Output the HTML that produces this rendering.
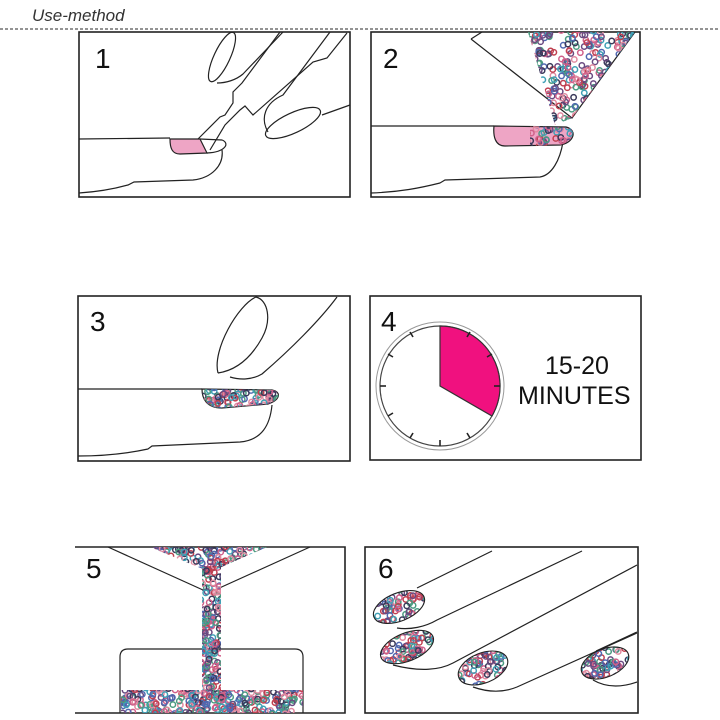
<!DOCTYPE html>
<html><head><meta charset="utf-8"><style>
html,body{margin:0;padding:0;background:#fff;}
svg{display:block;}
text{font-family:"Liberation Sans",sans-serif;}
</style></head><body>
<svg id="s" width="720" height="720" viewBox="0 0 720 720" xmlns="http://www.w3.org/2000/svg">
<defs>
<clipPath id="c2"><polygon points="528,32 635,32 572,118 555,125"/></clipPath>
<clipPath id="c2n"><path d="M530,126 L570,128 C576,132 572,142 560,145 L530,146 Z"/></clipPath>
<clipPath id="c3"><path d="M202,389 L272,390 C282,392 280,400 268,404 L222,408 C206,408 202,398 202,389 Z"/></clipPath>
<clipPath id="c5a"><polygon points="150,547 267,547 210,572"/></clipPath>
<clipPath id="c5b"><rect x="202" y="566" width="19" height="132"/></clipPath>
<clipPath id="c5c"><rect x="121" y="690" width="182" height="23"/></clipPath>
<clipPath id="n1"><ellipse cx="399" cy="607" rx="27" ry="14" transform="rotate(-22 399 607)"/></clipPath>
<clipPath id="n2"><ellipse cx="407" cy="647" rx="28" ry="14" transform="rotate(-22 407 647)"/></clipPath>
<clipPath id="n3"><ellipse cx="483" cy="668" rx="26" ry="15" transform="rotate(-22 483 668)"/></clipPath>
<clipPath id="n4"><ellipse cx="605" cy="663" rx="25" ry="14" transform="rotate(-22 605 663)"/></clipPath>
</defs>
<text x="32" y="21" font-size="17" font-style="italic" fill="#333">Use-method</text>
<line x1="0" y1="29" x2="720" y2="29" stroke="#555" stroke-width="1.2" stroke-dasharray="3,2"/>

<g fill="none" stroke="#222" stroke-width="1.3">
<rect x="79" y="32" width="271" height="165" stroke-width="1.6"/>
<rect x="371" y="32" width="269" height="165" stroke-width="1.6"/>
<rect x="78" y="296" width="272" height="165" stroke-width="1.6"/>
<rect x="370" y="296" width="271" height="164" stroke-width="1.6"/>
<path d="M75,547 L345,547 L345,713 L75,713" stroke-width="1.6"/>
<rect x="365" y="547" width="273" height="166" stroke-width="1.6"/>
</g>
<g font-size="28" fill="#111">
<text x="95" y="68">1</text><text x="383" y="68">2</text>
<text x="90" y="331">3</text><text x="381" y="331">4</text>
<text x="86" y="578">5</text><text x="378" y="578">6</text>
</g>

<g fill="none" stroke="#222" stroke-width="1.2">
<path d="M79,139 L170,138"/>
<path d="M170,139 L200,139 L207,153 L180,154 C172,154 170,148 170,139 Z" fill="#eea5c5"/>
<path d="M200,139 L222,140 C230,143 226,152 207,153"/>
<path d="M222,150 C224,165 212,178 193,180 L134,182 L128,185 C110,190 95,192 79,193"/>
<path d="M198,139 L220,117 L225,115 L233,103 L233,92 L242,83 L280,32"/>
<path d="M210,150 L225,125 L240,110 L245,106 L253,115 L313,62 L327,58 L347,33"/>
<ellipse cx="222" cy="57" rx="27" ry="8" transform="rotate(-65 222 57)"/>
<path d="M217,83 C226,83 236,80 243,74 L283,32"/>
<ellipse cx="293" cy="123" rx="30" ry="10" transform="rotate(-25 293 123)"/>
<path d="M268,132 C260,118 265,103 283,95 L330,32"/>
<path d="M322,115 L350,105"/>
<polyline points="471,39 482,32"/>
<polyline points="471,39 572,118 635,32"/>
<path d="M371,126 L494,126"/>
<path d="M494,126 L566,127 C578,130 574,143 560,145 L505,146 C495,146 493,136 494,126 Z" fill="#eea5c5"/>
<path d="M563,142 C560,160 552,175 540,177 L445,180 L440,183 C420,188 400,192 371,193"/>
<path d="M78,389 L202,389"/>
<path d="M202,389 L272,390 C282,392 280,400 268,404 L222,408 C206,408 202,398 202,389 Z"/>
<path d="M272,405 C270,425 262,440 240,442 L152,446 L148,449 C125,454 100,456 78,456"/>
<path d="M218,373 C212,350 238,305 256,297 C268,300 272,320 262,338 C252,356 238,370 218,373"/>
<path d="M230,377 C240,380 252,380 262,374 C290,350 320,320 337,297"/>
<circle cx="440" cy="386" r="64" stroke="#999" stroke-width="1"/>
<circle cx="440" cy="386" r="60" stroke="#444" stroke-width="1.2"/>
<path d="M440,386 L440,326 A60,60 0 0 1 492,416 Z" fill="#f0117f" stroke="#333"/>
<g stroke="#222" stroke-width="1.6">
<line x1="440" y1="440" x2="440" y2="446"/>
<line x1="410" y1="332" x2="413" y2="337"/>
<line x1="388" y1="354" x2="393" y2="357"/>
<line x1="380" y1="386" x2="386" y2="386"/>
<line x1="388" y1="416" x2="393" y2="413"/>
<line x1="410" y1="438" x2="413" y2="433"/>
<line x1="470" y1="438" x2="467" y2="433"/>
<line x1="470" y1="332" x2="467" y2="337"/>
<line x1="492" y1="354" x2="487" y2="357"/>
<line x1="500" y1="386" x2="494" y2="386"/>
</g>
<path d="M108,547 L203,590"/>
<path d="M310,547 L215,590"/>
<path d="M120,713 L120,657 Q120,649 128,649 L295,649 Q303,649 303,657 L303,713"/>
<path d="M492,551 L417,588"/>
<path d="M582,551 L437,620 C425,627 410,630 397,628"/>
<path d="M637,565 L453,663 C440,670 420,672 393,665"/>
<path d="M637,633 L517,687 C505,692 490,693 473,687"/>
<path d="M593,680 C605,687 620,688 637,682"/>
<path d="M596,651 L637,632"/>
</g>
<g id="beads"></g>
<g fill="none" stroke="#222" stroke-width="1.1">
<ellipse cx="399" cy="607" rx="27" ry="14" transform="rotate(-22 399 607)"/>
<ellipse cx="407" cy="647" rx="28" ry="14" transform="rotate(-22 407 647)"/>
<ellipse cx="483" cy="668" rx="26" ry="15" transform="rotate(-22 483 668)"/>
<ellipse cx="605" cy="663" rx="25" ry="14" transform="rotate(-22 605 663)"/>
</g>
<g fill="#111" font-size="25">
<text x="545" y="374">15-20</text>
<text x="518" y="404">MINUTES</text>
</g>
</svg>
<script>
(function(){
var seed=7;function r(){seed=(seed*16807)%2147483647;return seed/2147483647;}
var cols=["#d0608a","#3fa0b5","#5068b0","#6a4a80","#c04050","#4a9a80","#3a3a5a","#e08aa0"];
var g=document.getElementById("beads");var ns="http://www.w3.org/2000/svg";
function fill(clip,x,y,w,h,n){var gg=document.createElementNS(ns,"g");gg.setAttribute("clip-path","url(#"+clip+")");
for(var i=0;i<n;i++){var c=document.createElementNS(ns,"circle");c.setAttribute("cx",x+r()*w);c.setAttribute("cy",y+r()*h);c.setAttribute("r",2.7);c.setAttribute("fill","none");c.setAttribute("stroke",cols[Math.floor(r()*cols.length)]);c.setAttribute("stroke-width","1.5");gg.appendChild(c);}g.appendChild(gg);}
fill("c2",525,30,115,100,420);fill("c2n",525,122,55,26,60);
fill("c3",200,386,85,25,130);fill("c5a",148,545,125,30,170);fill("c5b",200,564,23,138,200);fill("c5c",119,686,186,28,300);
fill("n1",368,590,62,34,100);fill("n2",376,630,64,34,100);fill("n3",454,650,58,36,95);fill("n4",577,646,56,34,90);
})();
</script>
</body></html>
